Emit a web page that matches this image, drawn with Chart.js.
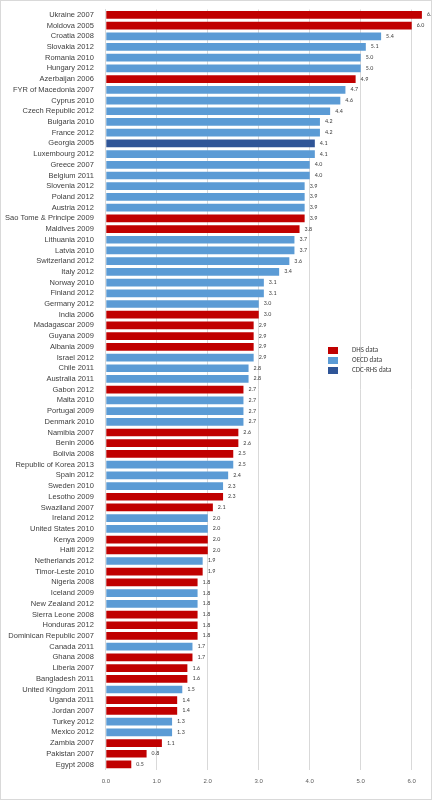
<!DOCTYPE html>
<html><head><meta charset="utf-8">
<script src="https://cdn.jsdelivr.net/npm/chart.js@4"></script>
<style>
body{margin:0;background:#fff;font-family:Calibri,"Liberation Sans",Carlito,sans-serif}
#wrap{position:absolute;left:0;top:0;width:430px;height:798px;border:1px solid #d9d9d9}
#lg{position:absolute;left:328px;top:345px;font-size:7px;color:#404040;line-height:10px}
#lg div{display:flex;align-items:center;gap:14px}
#lg span{display:inline-block;width:10px;height:7px}
</style></head><body>
<div id="wrap"><canvas id="c" width="430" height="798"></canvas></div>
<div id="lg"><div><span style="background:#C00000"></span>DHS data</div><div><span style="background:#5B9BD5"></span>OECD data</div><div><span style="background:#2F5597"></span>CDC-RHS data</div></div>
<script>
const categories=["Ukraine 2007","Moldova 2005","Croatia 2008","Slovakia 2012","Romania 2010","Hungary 2012","Azerbaijan 2006","FYR of Macedonia 2007","Cyprus 2010","Czech Republic 2012","Bulgaria 2010","France 2012","Georgia 2005","Luxembourg 2012","Greece 2007","Belgium 2011","Slovenia 2012","Poland 2012","Austria 2012","Sao Tome & Principe 2009","Maldives 2009","Lithuania 2010","Latvia 2010","Switzerland 2012","Italy 2012","Norway 2010","Finland 2012","Germany 2012","India 2006","Madagascar 2009","Guyana 2009","Albania 2009","Israel 2012","Chile 2011","Australia 2011","Gabon 2012","Malta 2010","Portugal 2009","Denmark 2010","Namibia 2007","Benin 2006","Bolivia 2008","Republic of Korea 2013","Spain 2012","Sweden 2010","Lesotho 2009","Swaziland 2007","Ireland 2012","United States 2010","Kenya 2009","Haiti 2012","Netherlands 2012","Timor-Leste 2010","Nigeria 2008","Iceland 2009","New Zealand 2012","Sierra Leone 2008","Honduras 2012","Dominican Republic 2007","Canada 2011","Ghana 2008","Liberia 2007","Bangladesh 2011","United Kingdom 2011","Uganda 2011","Jordan 2007","Turkey 2012","Mexico 2012","Zambia 2007","Pakistan 2007","Egypt 2008"];
const values=[6.2,6.0,5.4,5.1,5.0,5.0,4.9,4.7,4.6,4.4,4.2,4.2,4.1,4.1,4.0,4.0,3.9,3.9,3.9,3.9,3.8,3.7,3.7,3.6,3.4,3.1,3.1,3.0,3.0,2.9,2.9,2.9,2.9,2.8,2.8,2.7,2.7,2.7,2.7,2.6,2.6,2.5,2.5,2.4,2.3,2.3,2.1,2.0,2.0,2.0,2.0,1.9,1.9,1.8,1.8,1.8,1.8,1.8,1.8,1.7,1.7,1.6,1.6,1.5,1.4,1.4,1.3,1.3,1.1,0.8,0.5];
const sources="DDOOOODOOOOOCOOOOOODDOOOOOOODDDDOOODOOODDDOOODDOODDODDOODDDODDDODDOODDD".split("");
const colorMap={D:"#C00000",O:"#5B9BD5",C:"#2F5597"};
const xTicks=[0,1,2,3,4,5,6];
const labelPlugin={id:"vl",afterDatasetsDraw(ch){const c=ch.ctx;const m=ch.getDatasetMeta(0);c.save();c.font="6px Calibri, 'Liberation Sans', sans-serif";c.fillStyle="#404040";c.textBaseline="middle";m.data.forEach((b,i)=>{c.fillText(values[i].toFixed(1),b.x+5,b.y);});c.restore();}};
new Chart(document.getElementById("c"),{type:"bar",
data:{labels:categories,datasets:[{data:values,backgroundColor:sources.map(s=>colorMap[s]),categoryPercentage:1,barPercentage:0.72}]},
options:{indexAxis:"y",responsive:false,animation:false,
layout:{padding:{top:8,right:4,bottom:6,left:0}},
plugins:{legend:{display:false},tooltip:{enabled:false}},
scales:{x:{min:0,max:6.3,afterBuildTicks(a){a.ticks=xTicks.map(v=>({value:v}));},
grid:{color:"#d9d9d9",drawTicks:false},border:{display:false},
ticks:{padding:8,font:{size:6},color:"#595959",callback:v=>Number(v).toFixed(1)}},
y:{grid:{display:false},border:{color:"#d9d9d9"},ticks:{autoSkip:false,font:{size:7.5},color:"#404040",padding:4}}}},
plugins:[labelPlugin]});
</script></body></html>
